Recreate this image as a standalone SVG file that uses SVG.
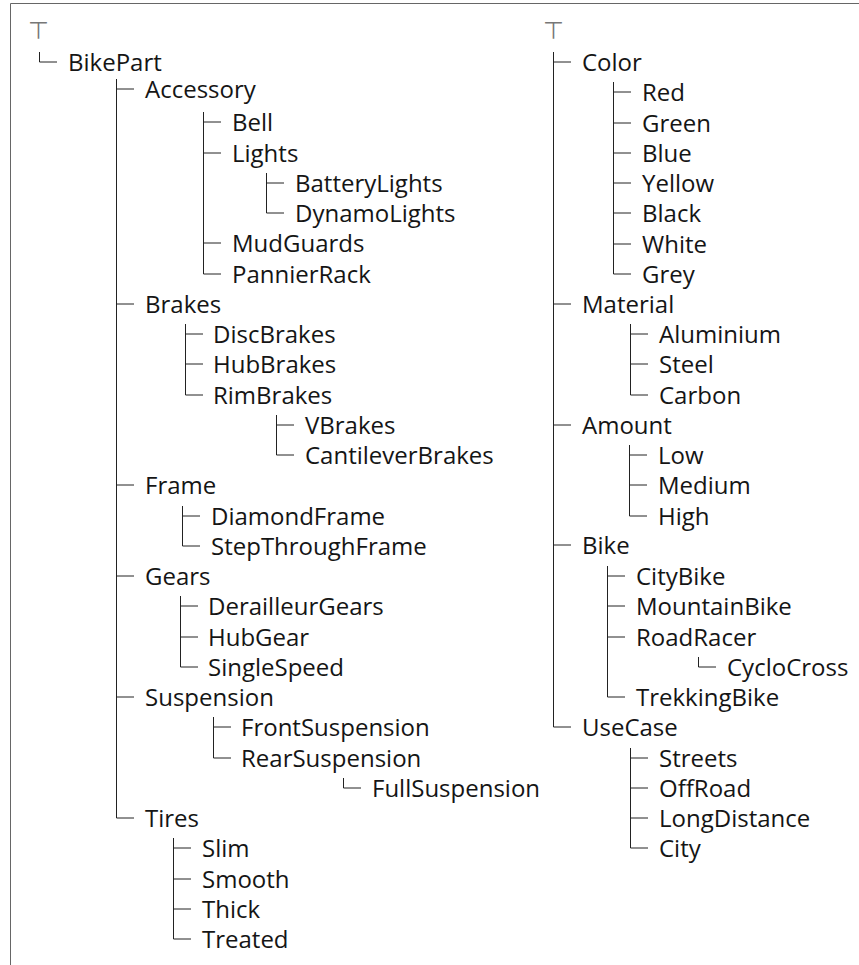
<svg xmlns="http://www.w3.org/2000/svg" width="859" height="965" viewBox="0 0 859 965">
<style>
text{font-family:"Open Sans","Noto Sans","Liberation Sans",sans-serif;font-size:24px;fill:#151515}
text.top{font-family:"DejaVu Sans",sans-serif;font-size:24px;fill:#777;text-anchor:middle}
.c{fill:none;stroke:#222;stroke-width:1}
.frame{fill:none;stroke:#666;stroke-width:1}
</style>
<rect width="859" height="965" fill="#fff"/>
<path class="frame" d="M10.5 965V3.5H859"/>
<g id="connectors">
<path class="c" d="M39.5 52V62H57"/>
<path class="c" d="M116.5 79V818H134M116.5 89H134M116.5 304H134M116.5 485H134M116.5 576H134M116.5 697H134"/>
<path class="c" d="M203.5 112V274H221M203.5 122H221M203.5 153H221M203.5 243H221"/>
<path class="c" d="M266.5 173V213H284M266.5 183H284"/>
<path class="c" d="M185.5 324V395H203M185.5 334H203M185.5 364H203"/>
<path class="c" d="M276.5 415V455H294M276.5 425H294"/>
<path class="c" d="M182.5 506V546H200M182.5 516H200"/>
<path class="c" d="M180.5 596V667H198M180.5 606H198M180.5 637H198"/>
<path class="c" d="M213.5 717V758H231M213.5 727H231"/>
<path class="c" d="M343.5 778V788H361"/>
<path class="c" d="M173.5 838V939H191M173.5 848H191M173.5 879H191M173.5 909H191"/>
<path class="c" d="M553.5 52V727H571M553.5 62H571M553.5 304H571M553.5 425H571M553.5 545H571"/>
<path class="c" d="M613.5 82V274H631M613.5 92H631M613.5 123H631M613.5 153H631M613.5 183H631M613.5 213H631M613.5 244H631"/>
<path class="c" d="M630.5 324V395H648M630.5 334H648M630.5 364H648"/>
<path class="c" d="M629.5 445V516H647M629.5 455H647M629.5 485H647"/>
<path class="c" d="M607.5 566V697H625M607.5 576H625M607.5 606H625M607.5 637H625"/>
<path class="c" d="M698.5 657V667H716"/>
<path class="c" d="M630.5 748V848H648M630.5 758H648M630.5 788H648M630.5 818H648"/>
</g>
<g id="top-left"><text class="top" x="38.5" y="39">⊤</text></g>
<g id="BikePart"><text x="68" y="71">BikePart</text></g>
<g id="Accessory"><text x="145" y="98">Accessory</text></g>
<g id="Bell"><text x="232" y="131">Bell</text></g>
<g id="Lights"><text x="232" y="162">Lights</text></g>
<g id="BatteryLights"><text x="295" y="192">BatteryLights</text></g>
<g id="DynamoLights"><text x="295" y="222">DynamoLights</text></g>
<g id="MudGuards"><text x="232" y="252">MudGuards</text></g>
<g id="PannierRack"><text x="232" y="283">PannierRack</text></g>
<g id="Brakes"><text x="145" y="313">Brakes</text></g>
<g id="DiscBrakes"><text x="213" y="343">DiscBrakes</text></g>
<g id="HubBrakes"><text x="213" y="373">HubBrakes</text></g>
<g id="RimBrakes"><text x="213" y="404">RimBrakes</text></g>
<g id="VBrakes"><text x="305" y="434">VBrakes</text></g>
<g id="CantileverBrakes"><text x="305" y="464">CantileverBrakes</text></g>
<g id="Frame"><text x="145" y="494">Frame</text></g>
<g id="DiamondFrame"><text x="211" y="525">DiamondFrame</text></g>
<g id="StepThroughFrame"><text x="211" y="555">StepThroughFrame</text></g>
<g id="Gears"><text x="145" y="585">Gears</text></g>
<g id="DerailleurGears"><text x="208" y="615">DerailleurGears</text></g>
<g id="HubGear"><text x="208" y="646">HubGear</text></g>
<g id="SingleSpeed"><text x="208" y="676">SingleSpeed</text></g>
<g id="Suspension"><text x="145" y="706">Suspension</text></g>
<g id="FrontSuspension"><text x="241" y="736">FrontSuspension</text></g>
<g id="RearSuspension"><text x="241" y="767">RearSuspension</text></g>
<g id="FullSuspension"><text x="372" y="797">FullSuspension</text></g>
<g id="Tires"><text x="145" y="827">Tires</text></g>
<g id="Slim"><text x="202" y="857">Slim</text></g>
<g id="Smooth"><text x="202" y="888">Smooth</text></g>
<g id="Thick"><text x="202" y="918">Thick</text></g>
<g id="Treated"><text x="202" y="948">Treated</text></g>
<g id="top-right"><text class="top" x="553.5" y="39">⊤</text></g>
<g id="Color"><text x="582" y="71">Color</text></g>
<g id="Red"><text x="642" y="101">Red</text></g>
<g id="Green"><text x="642" y="132">Green</text></g>
<g id="Blue"><text x="642" y="162">Blue</text></g>
<g id="Yellow"><text x="642" y="192">Yellow</text></g>
<g id="Black"><text x="642" y="222">Black</text></g>
<g id="White"><text x="642" y="253">White</text></g>
<g id="Grey"><text x="642" y="283">Grey</text></g>
<g id="Material"><text x="582" y="313">Material</text></g>
<g id="Aluminium"><text x="659" y="343">Aluminium</text></g>
<g id="Steel"><text x="659" y="373">Steel</text></g>
<g id="Carbon"><text x="659" y="404">Carbon</text></g>
<g id="Amount"><text x="582" y="434">Amount</text></g>
<g id="Low"><text x="658" y="464">Low</text></g>
<g id="Medium"><text x="658" y="494">Medium</text></g>
<g id="High"><text x="658" y="525">High</text></g>
<g id="Bike"><text x="582" y="554">Bike</text></g>
<g id="CityBike"><text x="636" y="585">CityBike</text></g>
<g id="MountainBike"><text x="636" y="615">MountainBike</text></g>
<g id="RoadRacer"><text x="636" y="646">RoadRacer</text></g>
<g id="CycloCross"><text x="727" y="676">CycloCross</text></g>
<g id="TrekkingBike"><text x="636" y="706">TrekkingBike</text></g>
<g id="UseCase"><text x="582" y="736">UseCase</text></g>
<g id="Streets"><text x="659" y="767">Streets</text></g>
<g id="OffRoad"><text x="659" y="797">OffRoad</text></g>
<g id="LongDistance"><text x="659" y="827">LongDistance</text></g>
<g id="City"><text x="659" y="857">City</text></g>
</svg>
